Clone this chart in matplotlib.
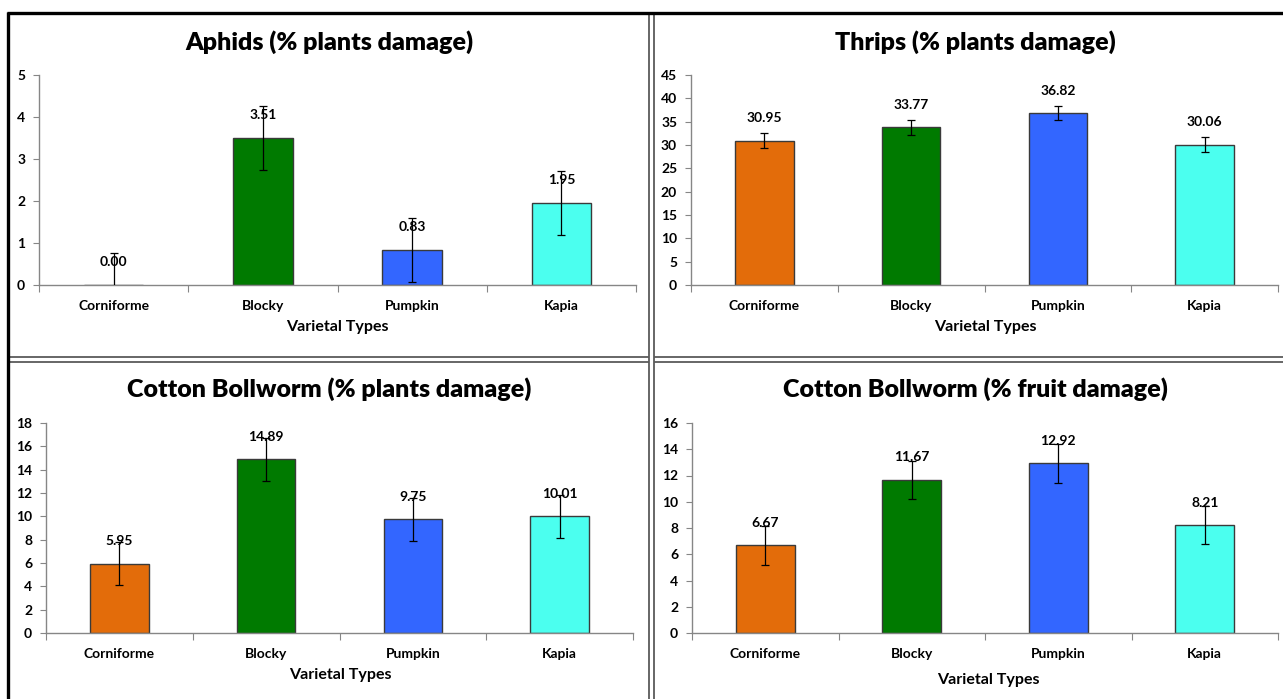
import numpy as np
import matplotlib
matplotlib.use('Agg')
import matplotlib.pyplot as plt
from matplotlib.lines import Line2D

plt.rcParams['font.family'] = ['Lato', 'DejaVu Sans']
plt.rcParams['font.weight'] = 'bold'

# varietal types and bar colours
varieties = ['Corniforme', 'Blocky', 'Pumpkin', 'Kapia']
bar_colors = ['#E36C0A', '#007A00', '#3366FF', '#4BFFEF']

# pest damage means and error bar half-widths
aphids_plants = [0.00, 3.51, 0.83, 1.95]
aphids_err = [0.76, 0.76, 0.76, 0.76]
thrips_plants = [30.95, 33.77, 36.82, 30.06]
thrips_err = [1.55, 1.55, 1.55, 1.55]
bollworm_plants = [5.95, 14.89, 9.75, 10.01]
bollworm_plants_err = [1.84, 1.84, 1.84, 1.84]
bollworm_fruit = [6.67, 11.67, 12.92, 8.21]
bollworm_fruit_err = [1.46, 1.46, 1.46, 1.46]

W, H = 1283, 699
fig = plt.figure(figsize=(W / 100, H / 100), dpi=100)


def px_rect(x0, y_top, x1, y_bot):
    # pixel box -> figure fraction rect
    return [x0 / W, 1 - y_bot / H, (x1 - x0) / W, (y_bot - y_top) / H]


def draw_panel(rect, title, values, errs, ymax, ystep, title_xy, xlabel_xy):
    ax = fig.add_axes(rect)
    x = np.arange(len(varieties))
    ax.bar(x, values, width=0.4, color=bar_colors, edgecolor='#3a3a3a', linewidth=1.0, zorder=2)
    ax.errorbar(x, values, yerr=errs, fmt='none', ecolor='black', elinewidth=0.9,
                capsize=3, capthick=0.9, zorder=3)
    for xi, v in zip(x, values):
        ax.annotate(f'{v:.2f}', (xi, v), xytext=(0, 12), textcoords='offset points',
                    ha='center', va='bottom', fontsize=10, fontweight='bold', zorder=4)
    ax.set_xlim(-0.5, len(varieties) - 0.5)
    ax.set_ylim(0, ymax)
    ax.set_yticks(np.arange(0, ymax + 0.001, ystep))
    ax.set_xticks(np.arange(-0.5, len(varieties)), minor=False)
    ax.set_xticklabels([])
    ax.set_xticks(x, minor=True)
    ax.set_xticklabels(varieties, minor=True)
    ax.tick_params(axis='x', which='minor', length=0, pad=11, labelsize=10)
    ax.tick_params(axis='x', which='major', length=5, color='#868686', direction='out')
    ax.tick_params(axis='y', length=4, color='#868686', labelsize=10, pad=6)
    for lbl in ax.get_yticklabels() + ax.get_xticklabels(minor=True):
        lbl.set_fontweight('bold')
    for side in ['top', 'right']:
        ax.spines[side].set_visible(False)
    for side in ['left', 'bottom']:
        ax.spines[side].set_color('#868686')
        ax.spines[side].set_linewidth(1.0)
    ax.patch.set_alpha(0)
    fig.text(title_xy[0] / W, 1 - title_xy[1] / H, title, ha='center', va='center',
             fontsize=18, fontweight='heavy')
    fig.text(xlabel_xy[0] / W, 1 - xlabel_xy[1] / H, 'Varietal Types', ha='center', va='center',
             fontsize=11.5, fontweight='bold')
    return ax


draw_panel(px_rect(39, 75, 636, 285), 'Aphids (% plants damage)', aphids_plants, aphids_err,
           5, 1, (329, 42), (337, 327))
draw_panel(px_rect(691, 75, 1278, 285), 'Thrips (% plants damage)', thrips_plants, thrips_err,
           45, 5, (975, 42), (985, 327))
draw_panel(px_rect(46, 423, 633, 633), 'Cotton Bollworm (% plants damage)', bollworm_plants,
           bollworm_plants_err, 18, 2, (329, 389), (340, 675))
draw_panel(px_rect(692, 423, 1278, 633), 'Cotton Bollworm (% fruit damage)', bollworm_fruit,
           bollworm_fruit_err, 16, 2, (975, 389), (988, 680))


def fig_line(xs, ys, color, lw):
    fig.add_artist(Line2D([v / W for v in xs], [1 - v / H for v in ys], color=color,
                          linewidth=lw, transform=fig.transFigure, solid_capstyle='butt'))


# panel dividers (double grey lines)
fig_line([649, 649], [13, 699], '#5a5a5a', 1.3)
fig_line([654, 654], [13, 699], '#5a5a5a', 1.3)
fig_line([8, 649], [357, 357], '#5a5a5a', 1.3)
fig_line([654, W], [357, 357], '#5a5a5a', 1.3)
fig_line([8, 649], [362, 362], '#5a5a5a', 1.3)
fig_line([654, W], [362, 362], '#5a5a5a', 1.3)
# heavy outer frame on top and left
fig_line([6.5, W], [13, 13], 'black', 2.4)
fig_line([8, 8], [12, H], 'black', 2.4)

fig.savefig('out.png', dpi=100)
